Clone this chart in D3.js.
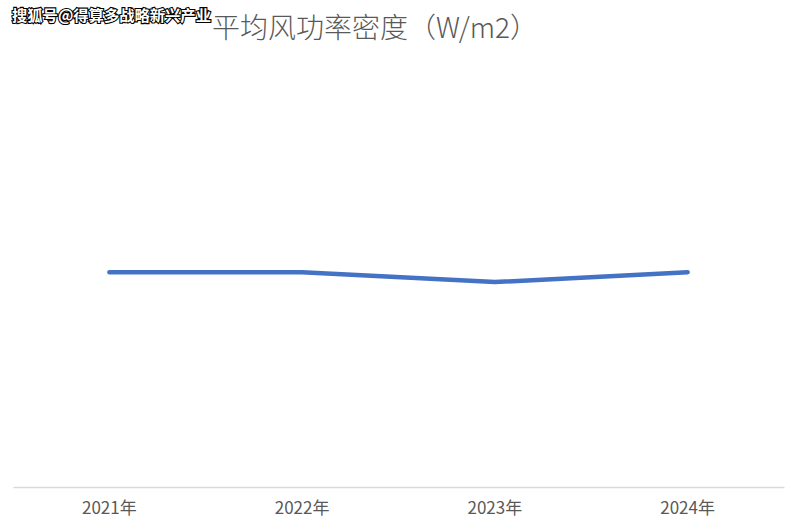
<!DOCTYPE html>
<html>
<head>
<meta charset="utf-8">
<script src="https://cdn.jsdelivr.net/npm/d3@7"></script>
<style>
  body { margin: 0; background: #fff; }
  svg { display: block; }
</style>
</head>
<body>
<div id="chart"></div>
<script>
// data
var years  = ["2021年", "2022年", "2023年", "2024年"];
var values = [207, 207, 197.5, 207];
var title  = "平均风功率密度（W/m2）";
var mark   = "搜狐号@得算多战略新兴产业";

var width = 797, height = 528;
var margin = {top: 72, right: 13, bottom: 41, left: 13};

var svg = d3.select("#chart").append("svg")
    .attr("width", width)
    .attr("height", height);

var x = d3.scaleBand()
    .domain(years)
    .range([margin.left, width - margin.right]);

var y = d3.scaleLinear()
    .domain([0, 400])
    .range([height - margin.bottom, margin.top]);

// x axis
var xAxis = svg.append("g")
    .attr("transform", "translate(0," + (height - margin.bottom) + ")")
    .call(d3.axisBottom(x).tickSize(0).tickPadding(15));

xAxis.select(".domain")
    .attr("stroke", "#d9d9d9")
    .attr("stroke-width", 1.5);

xAxis.selectAll("text")
    .attr("fill", "#595959")
    .style("font-family", "'Liberation Sans Narrow', 'Noto Sans CJK SC', sans-serif")
    .style("font-size", "17px");

// line
var line = d3.line()
    .x(function(d, i) { return x(years[i]) + x.bandwidth() / 2; })
    .y(function(d) { return y(d); });

svg.append("path")
    .datum(values)
    .attr("d", line)
    .attr("fill", "none")
    .attr("stroke", "#4472c4")
    .attr("stroke-width", 4.5)
    .attr("stroke-linecap", "round")
    .attr("stroke-linejoin", "round");

// title
svg.append("text")
    .attr("x", 375)
    .attr("y", 38)
    .attr("text-anchor", "middle")
    .attr("fill", "#595959")
    .style("font-family", "'Noto Sans CJK SC', sans-serif")
    .style("font-weight", "300")
    .style("font-size", "28px")
    .text(title);

// watermark
svg.append("text")
    .attr("x", 12)
    .attr("y", 21)
    .attr("fill", "#fff")
    .attr("stroke", "#000")
    .attr("stroke-width", 2.2)
    .attr("paint-order", "stroke")
    .style("font-family", "'Noto Sans CJK SC', sans-serif")
    .style("font-weight", "bold")
    .style("font-size", "15.3px")
    .text(mark);
</script>
</body>
</html>
